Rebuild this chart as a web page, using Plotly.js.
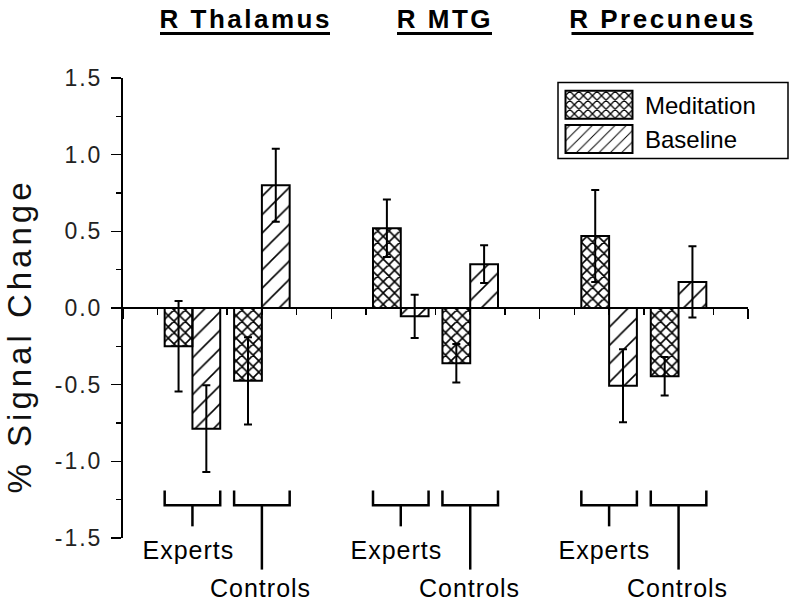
<!DOCTYPE html>
<html><head><meta charset="utf-8">
<script src="https://cdn.plot.ly/plotly-3.0.1.min.js"></script>
<style>
html,body{margin:0;padding:0;background:#fff;}
#chart{width:796px;height:605px;}
.ytick text{letter-spacing:2px;}
.annotation[data-index="0"] text,.annotation[data-index="1"] text,.annotation[data-index="2"] text{letter-spacing:2.5px;}
.annotation[data-index="3"] text{letter-spacing:4px;}
.annotation[data-index="4"] text,.annotation[data-index="5"] text,.annotation[data-index="6"] text,
.annotation[data-index="7"] text,.annotation[data-index="8"] text,.annotation[data-index="9"] text{letter-spacing:1px;}
</style></head>
<body><div id="chart"></div>
<script>
// ---- data ----
const regions = ['R Thalamus', 'R MTG', 'R Precuneus'];
const groups = ['Experts', 'Controls'];
const conditions = ['Meditation', 'Baseline'];
// order: Thalamus-Experts, Thalamus-Controls, MTG-Experts, MTG-Controls, Precuneus-Experts, Precuneus-Controls
const meditation = [-0.25, -0.475, 0.52, -0.36, 0.47, -0.445];
const meditationErr = [0.295, 0.285, 0.187, 0.126, 0.30, 0.126];
const baseline = [-0.787, 0.80, -0.054, 0.286, -0.507, 0.17];
const baselineErr = [0.283, 0.238, 0.141, 0.123, 0.238, 0.232];
const yTickVals = [-1.5, -1, -0.5, 0, 0.5, 1, 1.5];
const yTickText = ['-1.5', '-1.0', '-0.5', '0.0', '0.5', '1.0', '1.5'];
const yTitle = '% Signal Change';

// ---- layout helpers ----
const FONT = 'Liberation Sans, Arial, Helvetica, sans-serif';
const xPos = [];
regions.forEach((r, i) => groups.forEach((g, j) => xPos.push(6 * i + 2 + 2 * j)));

const barLine = {color: '#000', width: 2};
const traces = [
  {
    type: 'bar', name: conditions[0], x: xPos, y: meditation,
    marker: {color: '#fff', line: barLine,
      pattern: {shape: 'x', size: 8, solidity: 0.36, fgcolor: '#000', fillmode: 'replace'}},
    error_y: {type: 'data', array: meditationErr, visible: true, color: '#000', thickness: 2, width: 4}
  },
  {
    type: 'bar', name: conditions[1], x: xPos, y: baseline,
    marker: {color: '#fff', line: barLine,
      pattern: {shape: '/', size: 13, solidity: 0.12, fgcolor: '#000', fillmode: 'replace'}},
    error_y: {type: 'data', array: baselineErr, visible: true, color: '#000', thickness: 2, width: 4}
  }
];

// paper-y from a y data value (range -1.5..1.5)
const py = v => (v + 1.5) / 3;

const shapes = [];
const annotations = [];

// region titles (underlined)
const titleX = [0.1952, 0.5144, 0.8632];
const titleHalf = [0.136, 0.076, 0.1456];
regions.forEach((r, i) => {
  annotations.push({text: '<b>' + r + '</b>', xref: 'paper', yref: 'paper', x: titleX[i], y: 1.128,
    xanchor: 'center', yanchor: 'middle', showarrow: false, font: {family: FONT, size: 26, color: '#000'}});
  shapes.push({type: 'line', xref: 'paper', yref: 'paper', x0: titleX[i] - titleHalf[i], x1: titleX[i] + titleHalf[i],
    y0: 1.0967, y1: 1.0967, line: {color: '#000', width: 3}});
});
// y title
annotations.push({text: yTitle, xref: 'paper', yref: 'paper', x: -0.165, y: 0.44, textangle: -90,
  xanchor: 'center', yanchor: 'middle', showarrow: false, font: {family: FONT, size: 33, color: '#111'}});

// group brackets + labels
const yTop = py(-1.19), yH = py(-1.287), yStem = [py(-1.424), py(-1.706)];
const labelY = [-0.0261, -0.109];
const labelDx = [-0.12, -0.03];
xPos.forEach((c, k) => {
  const j = k % 2;
  shapes.push({type: 'path', xref: 'x', yref: 'paper',
    path: `M${c - 0.8},${yTop} L${c - 0.8},${yH} L${c + 0.8},${yH} L${c + 0.8},${yTop}`,
    line: {color: '#000', width: 2.5}});
  shapes.push({type: 'line', xref: 'x', yref: 'paper', x0: c, x1: c, y0: yH, y1: yStem[j],
    line: {color: '#000', width: 2.5}});
});
xPos.forEach((c, k) => {
  const j = k % 2;
  annotations.push({text: groups[j], xref: 'x', yref: 'paper', x: c + labelDx[j], y: labelY[j],
    xanchor: 'center', yanchor: 'middle', showarrow: false, font: {family: FONT, size: 25, color: '#000'}});
});

// legend frame
shapes.push({type: 'rect', xref: 'paper', yref: 'paper', x0: 0.696, x1: 1.064, y0: 0.825, y1: 0.99,
  line: {color: '#000', width: 1.5}, fillcolor: 'rgba(0,0,0,0)', layer: 'above'});

const layout = {
  width: 796, height: 605,
  margin: {l: 123, r: 48, t: 78, b: 67, autoexpand: false},
  paper_bgcolor: '#fff', plot_bgcolor: '#fff',
  barmode: 'group', bargap: 0.2, bargroupgap: 0,
  showlegend: true,
  legend: {x: 0.696, y: 0.99, xanchor: 'left', yanchor: 'top', bgcolor: 'rgba(0,0,0,0)', borderwidth: 0,
    font: {family: FONT, size: 24, color: '#000'}, itemwidth: 77, tracegroupgap: 0},
  xaxis: {range: [0, 18], anchor: 'free', position: 0.5, side: 'bottom', showgrid: false, zeroline: false,
    showline: true, linecolor: '#000', linewidth: 2,
    tickmode: 'linear', tick0: 0, dtick: 6, ticks: 'outside', ticklen: 10, tickwidth: 1.5, tickcolor: '#000',
    showticklabels: false,
    minor: {tickmode: 'linear', tick0: 0, dtick: 1, ticks: 'outside', ticklen: 6, tickwidth: 1.5, tickcolor: '#000'}},
  yaxis: {range: [-1.5, 1.5], showgrid: false, zeroline: false,
    showline: true, linecolor: '#000', linewidth: 2,
    tickmode: 'array', tickvals: yTickVals, ticktext: yTickText,
    ticks: 'outside', ticklen: 10, tickwidth: 1.5, tickcolor: '#000', ticklabelstandoff: 4,
    tickfont: {family: FONT, size: 23, color: '#222'},
    minor: {tickmode: 'linear', tick0: 0, dtick: 0.25, ticks: 'outside', ticklen: 5, tickwidth: 1.5, tickcolor: '#000'}},
  shapes: shapes,
  annotations: annotations
};

// enlarge the legend swatches to match the reference key boxes
function enlargeSwatches() {
  document.querySelectorAll('#chart .legend .legendpoints path').forEach(p => {
    p.setAttribute('d', 'M-36,-14H31V14H-36Z');
  });
}
const gdEl = document.getElementById('chart');
Plotly.newPlot(gdEl, traces, layout, {staticPlot: true}).then(() => {
  enlargeSwatches();
  gdEl.on('plotly_afterplot', enlargeSwatches);
  setTimeout(enlargeSwatches, 50);
  setTimeout(enlargeSwatches, 300);
});
</script>
</body></html>
